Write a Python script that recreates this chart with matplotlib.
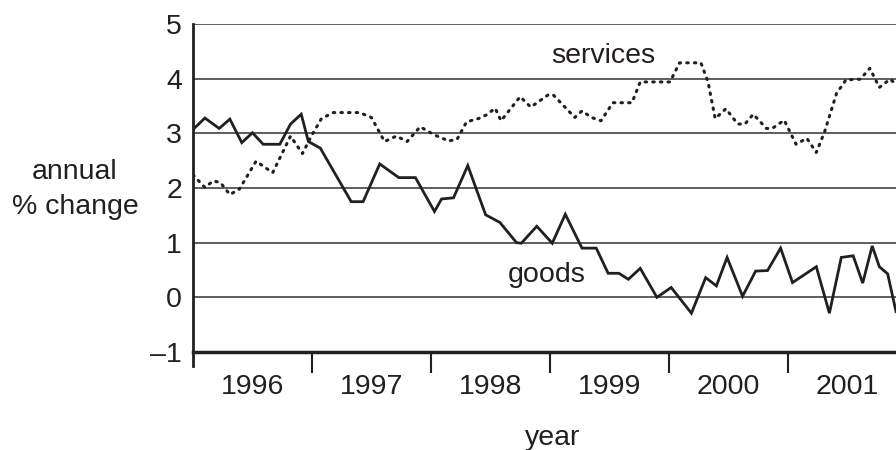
import numpy as np
import matplotlib.pyplot as plt
from matplotlib.ticker import FixedLocator, NullFormatter

plt.rcParams['font.family'] = ['Liberation Sans', 'DejaVu Sans']

# goods: annual % change (decimal year, value)
goods_t = [1996.00, 1996.10, 1996.22, 1996.31, 1996.41, 1996.50, 1996.59, 1996.73, 1996.82, 1996.91,
           1996.97, 1997.07, 1997.33, 1997.43, 1997.57, 1997.73, 1997.87, 1998.03, 1998.09, 1998.19,
           1998.31, 1998.46, 1998.58, 1998.72, 1998.76, 1998.89, 1999.02, 1999.13, 1999.27, 1999.39,
           1999.49, 1999.58, 1999.66, 1999.76, 1999.90, 2000.02, 2000.19, 2000.31, 2000.40, 2000.49,
           2000.62, 2000.73, 2000.83, 2000.94, 2001.04, 2001.24, 2001.35, 2001.45, 2001.55, 2001.63,
           2001.71, 2001.77, 2001.84, 2001.91]
goods_v = [3.07, 3.28, 3.09, 3.26, 2.83, 3.01, 2.80, 2.80, 3.17, 3.35,
           2.85, 2.73, 1.75, 1.75, 2.44, 2.19, 2.19, 1.57, 1.80, 1.82,
           2.41, 1.51, 1.37, 1.00, 0.99, 1.30, 0.99, 1.52, 0.90, 0.90,
           0.44, 0.44, 0.33, 0.53, 0.00, 0.18, -0.29, 0.36, 0.21, 0.73,
           0.02, 0.48, 0.49, 0.90, 0.27, 0.56, -0.29, 0.73, 0.76, 0.26,
           0.94, 0.56, 0.43, -0.26]

# services
serv_t = [1996.00, 1996.10, 1996.17, 1996.23, 1996.31, 1996.39, 1996.53, 1996.67, 1996.82, 1996.92,
          1997.00, 1997.08, 1997.18, 1997.40, 1997.50, 1997.61, 1997.71, 1997.80, 1997.91, 1998.03,
          1998.15, 1998.22, 1998.30, 1998.40, 1998.47, 1998.54, 1998.59, 1998.75, 1998.84, 1998.99,
          1999.03, 1999.21, 1999.27, 1999.35, 1999.43, 1999.53, 1999.69, 1999.76, 2000.01, 2000.09,
          2000.27, 2000.33, 2000.39, 2000.48, 2000.58, 2000.64, 2000.71, 2000.82, 2000.87, 2000.97,
          2001.07, 2001.16, 2001.24, 2001.31, 2001.41, 2001.49, 2001.61, 2001.69, 2001.77, 2001.86,
          2001.91]
serv_v = [2.24, 2.01, 2.13, 2.10, 1.88, 1.98, 2.49, 2.28, 2.95, 2.63,
          2.97, 3.27, 3.38, 3.38, 3.29, 2.85, 2.95, 2.85, 3.12, 2.97,
          2.86, 2.89, 3.21, 3.27, 3.34, 3.46, 3.23, 3.67, 3.48, 3.71,
          3.70, 3.29, 3.41, 3.29, 3.23, 3.56, 3.56, 3.94, 3.94, 4.29,
          4.29, 3.94, 3.27, 3.45, 3.17, 3.17, 3.35, 3.09, 3.09, 3.24,
          2.80, 2.91, 2.65, 3.03, 3.73, 3.98, 3.99, 4.19, 3.84, 3.99,
          3.90]

years = [1996, 1997, 1998, 1999, 2000, 2001]
y_ticks = [-1, 0, 1, 2, 3, 4, 5]

fs = 20.5
ink = '#231f20'

fig = plt.figure(figsize=(8.96, 4.5), dpi=100)
ax = fig.add_axes([193 / 896, 98 / 450, 1 - 193 / 896, 328 / 450])

for y in y_ticks[1:]:
    ax.axhline(y, color='#333333', lw=1.1, zorder=1)

ax.plot(goods_t, goods_v, color=ink, lw=2.0, zorder=3, solid_joinstyle='miter')
ax.plot(serv_t, serv_v, color=ink, lw=2.2, linestyle=(0, (0.5, 2.0)),
        dash_capstyle='round', zorder=3)

ax.set_xlim(1996, 2001.91)
ax.set_ylim(-1, 5)

for s in ['top', 'right']:
    ax.spines[s].set_visible(False)
ax.spines['left'].set_linewidth(2.0)
ax.spines['bottom'].set_linewidth(2.5)
ax.spines['left'].set_color(ink)
ax.spines['bottom'].set_color(ink)

# year boundaries get tick marks, labels sit mid-year
ax.xaxis.set_major_locator(FixedLocator(years[1:]))
ax.xaxis.set_major_formatter(NullFormatter())
ax.xaxis.set_minor_locator(FixedLocator([y + 0.5 for y in years]))
ax.set_xticklabels([str(y) for y in years], minor=True)
ax.tick_params(axis='x', which='major', direction='out', length=15, width=1.5, color=ink)
ax.tick_params(axis='x', which='minor', length=0, pad=15.5, labelsize=fs, labelcolor=ink)

ax.set_yticks(y_ticks)
ax.set_yticklabels(['\u20131' if y < 0 else str(y) for y in y_ticks])
ax.tick_params(axis='y', length=0, pad=8, labelsize=fs, labelcolor=ink)

# left spine runs down past the axis like the year ticks
ax.plot([1996, 1996], [-1, -1.25], color=ink, lw=2.0, clip_on=False)

ax.text(1999.45, 4.29, 'services', fontsize=fs, color=ink, ha='center', va='baseline')
ax.text(1998.97, 0.28, 'goods', fontsize=fs, color=ink, ha='center', va='baseline')

fig.text(75 / 896, 1 - 179 / 450, 'annual', fontsize=fs, color=ink, ha='center', va='baseline')
fig.text(75 / 896, 1 - 214 / 450, '% change', fontsize=fs, color=ink, ha='center', va='baseline')
fig.text(553 / 896, 1 - 445 / 450, 'year', fontsize=fs, color=ink, ha='center', va='baseline')

fig.savefig('out.png', dpi=100)
